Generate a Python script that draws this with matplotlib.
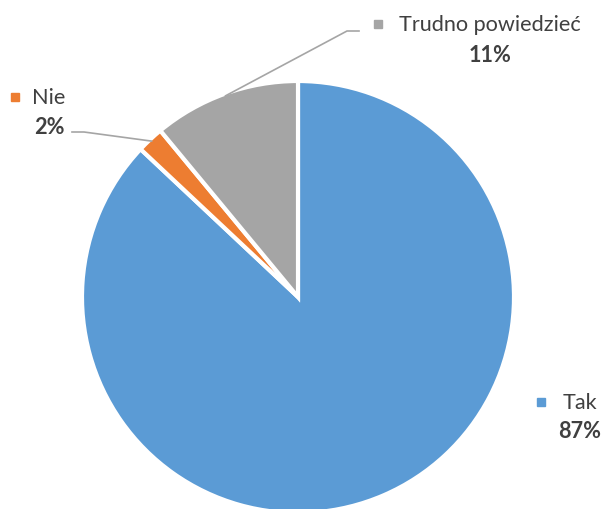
import numpy as np
import matplotlib.pyplot as plt

# dane
categories = ['Tak', 'Nie', 'Trudno powiedzieć']
values = [87, 2, 11]
colors = ['#5B9BD5', '#ED7D31', '#A5A5A5']

plt.rcParams['font.family'] = ['Lato', 'DejaVu Sans']
txt_color = '#404040'

W, H = 604, 510
fig = plt.figure(figsize=(W / 100, H / 100), dpi=100)
ax = fig.add_axes([0, 0, 1, 1])

cx, cy, r = 298, H - 298, 216
wedges, _ = ax.pie(values, colors=colors, startangle=90, counterclock=False,
                   radius=r, center=(cx, cy),
                   wedgeprops=dict(edgecolor='white', linewidth=3))
ax.set_xlim(0, W)
ax.set_ylim(0, H)
ax.set_aspect('equal')
ax.axis('off')

# pozycje etykiet (piksele od góry)
label_pos = {
    'Tak': (580, 403, 432, 541),
    'Nie': (49, 98, 128, 15),
    'Trudno powiedzieć': (490, 25, 55, 378),
}

for cat, val, col, w in zip(categories, values, colors, wedges):
    x, y1, y2, mx = label_pos[cat]
    ax.text(x, H - y1, cat, ha='center', va='center', fontsize=15.6, color=txt_color)
    ax.text(x, H - y2, f'{val}%', ha='center', va='center', fontsize=15.6,
            fontweight='bold', color=txt_color)
    ax.plot(mx, H - y1, marker='s', markersize=6, color=col, linestyle='none')

# linie odniesienia
leaders = {
    'Nie': [(72, 133), (84, 133)],
    'Trudno powiedzieć': [(359, 32), (347, 32)],
}
for cat, w in zip(categories, wedges):
    if cat not in leaders:
        continue
    mid = np.deg2rad((w.theta1 + w.theta2) / 2)
    ex, ey = cx + 0.99 * r * np.cos(mid), cy + 0.99 * r * np.sin(mid)
    pts = leaders[cat]
    xs = [p[0] for p in pts] + [ex]
    ys = [H - p[1] for p in pts] + [ey]
    ax.plot(xs, ys, color='#A5A5A5', linewidth=1.2)

fig.savefig('out.png', dpi=100)
